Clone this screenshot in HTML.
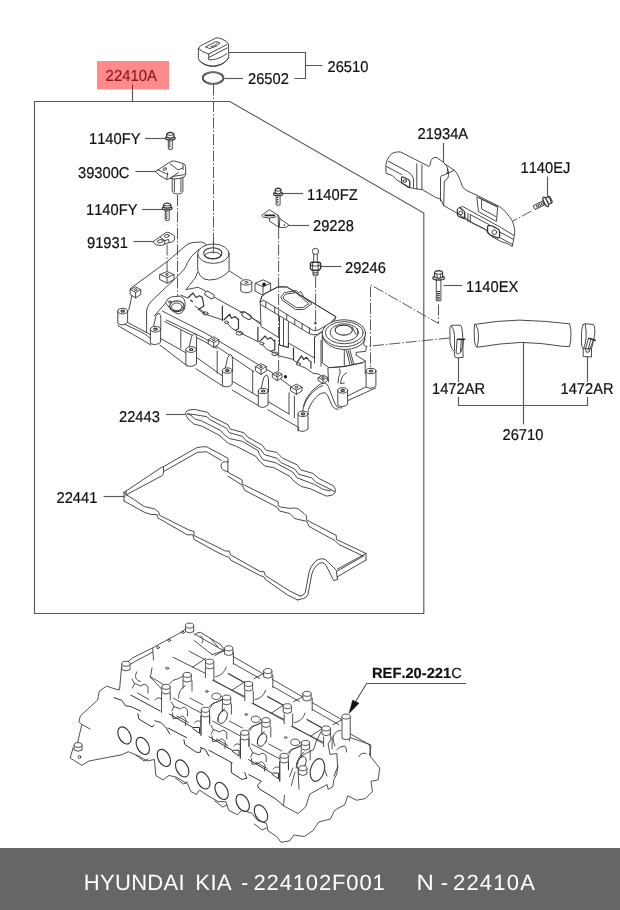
<!DOCTYPE html>
<html><head><meta charset="utf-8">
<style>
html,body{margin:0;padding:0;background:#fff;}
body{width:620px;height:910px;position:relative;overflow:hidden;font-family:"Liberation Sans",sans-serif;}
svg{position:absolute;left:0;top:0;will-change:transform;}
.l{font-family:"Liberation Sans",sans-serif;font-size:14.7px;fill:#111;stroke:#111;stroke-width:.2px;font-kerning:none;text-rendering:geometricPrecision;}
.ln{stroke:#585858;stroke-width:1.15;fill:none;}
.p{stroke:#363636;stroke-width:.9;fill:none;stroke-linejoin:round;stroke-linecap:round;}
.pf{stroke:#363636;stroke-width:.9;fill:#fff;stroke-linejoin:round;stroke-linecap:round;}
.d{stroke:#444;stroke-width:.9;fill:none;stroke-dasharray:11 2 1.5 2;}
#foot{will-change:transform;position:absolute;left:0;top:848px;width:620px;height:62px;background:#666;color:#fff;font-size:22px;line-height:62px;white-space:pre;font-kerning:none;text-rendering:geometricPrecision;}
#foot span{position:absolute;top:3.5px;}
</style></head><body>
<svg width="620" height="910" viewBox="0 0 620 910">
<!-- FRAME -->
<g id="frame">
<rect x="97" y="61" width="72" height="28.4" fill="#ff8a8a"/>
<text transform="translate(105.6 80.8) scale(1 1.07)" font-size="14.9" fill="#8b1a1a" stroke="#8b1a1a" stroke-width="0.2" style="font-kerning:none;text-rendering:geometricPrecision" font-family="Liberation Sans, sans-serif">22410A</text>
<path d="M132.5 84.5V89.4" stroke="#8b2525" stroke-width="1" fill="none"/>
<path class="ln" d="M132.5 89.4V101"/>
<path class="ln" d="M34.5 613.5V101.5H229.8L423.8 213V613.5Z"/>
</g>
<!-- LABELS -->
<g id="labels">
<text class="l" transform="translate(327.5 72) scale(1 1.07)">26510</text>
<text class="l" transform="translate(248 84) scale(1 1.07)">26502</text>
<text class="l" transform="translate(89 144) scale(1 1.07)">1140FY</text>
<text class="l" transform="translate(78 177.5) scale(1 1.07)">39300C</text>
<text class="l" transform="translate(86 215) scale(1 1.07)">1140FY</text>
<text class="l" transform="translate(87 248) scale(1 1.07)">91931</text>
<text class="l" transform="translate(307 200) scale(1 1.07)">1140FZ</text>
<text class="l" transform="translate(313 231) scale(1 1.07)">29228</text>
<text class="l" transform="translate(345 272.5) scale(1 1.07)">29246</text>
<text class="l" transform="translate(417.5 138.5) scale(1 1.07)">21934A</text>
<text class="l" transform="translate(520.5 172.5) scale(1 1.07)">1140EJ</text>
<text class="l" transform="translate(466 291.5) scale(1 1.07)">1140EX</text>
<text class="l" transform="translate(432 394) scale(1 1.07)">1472AR</text>
<text class="l" transform="translate(560.5 394) scale(1 1.07)">1472AR</text>
<text class="l" transform="translate(502.5 440) scale(1 1.07)">26710</text>
<text class="l" transform="translate(119 421.5) scale(1 1.07)">22443</text>
<text class="l" transform="translate(56.5 502.5) scale(1 1.07)">22441</text>
<text class="l" transform="translate(372 678)" font-weight="bold" style="font-size:14.7px">REF.20-221<tspan font-weight="normal">C</tspan></text>
</g>
<!-- LEADERS -->
<g id="leaders">
<path class="ln" d="M229 52.5H305.5V78.5H294.5M305.5 65.5H322.5"/>
<path class="ln" d="M224.5 78.5H243"/>
<path class="ln" d="M145 138.5H166"/>
<path class="ln" d="M135.5 171.5H156"/>
<path class="ln" d="M142 209.5H163"/>
<path class="ln" d="M133.5 241.5H153.5"/>
<path class="ln" d="M281.5 193.5H303"/>
<path class="ln" d="M289 225.5H309"/>
<path class="ln" d="M320.5 266.5H341"/>
<path class="ln" d="M443.5 143V162.5"/>
<path class="ln" d="M547.5 176.5V196"/>
<path class="ln" d="M443.5 285.5H462"/>
<path class="ln" d="M458.5 357V382M458.5 397V405.5H587.5V397M587.5 382V355.5"/>
<path class="ln" d="M523.5 343V424.5"/>
<path class="ln" d="M166 414.5H185"/>
<path class="ln" d="M103.5 496.5H124.5"/>
<path class="ln" d="M466 683.5H366.5L353 706"/>
<path d="M349.2 713.2L352.6 700.2L359 703.2Z" fill="#111" stroke="#111" stroke-width="0.6"/>
</g>
<!-- PARTS -->
<g id="parts">
<!-- oil cap 26510 -->
<g id="cap">
<path class="pf" d="M198.4 48.5V58.5Q199 62 206 65Q213 67.6 220.5 64.5Q228.5 61 228.8 56L228.4 44Q227 41 222 39Q218 37.4 216 38L201 45.5Q198.5 47 198.4 48.5Z"/>
<path class="p" d="M198.4 48.5Q203 52.5 208.7 54L226.8 44.6M208.7 54V59.8Q218 60.5 227 53.5M209.3 57.3L227 48"/>
<path class="p" d="M205.8 46.8L216 41.5L219.8 42.9L217 45.8L210.2 48.4Z"/>
<path class="p" d="M211 46.5L214.5 46L217 43.2"/>
<path class="p" d="M199.5 60.5Q205 66.5 213.5 66.6Q223 66 228.6 58"/>
</g>
<ellipse cx="213.1" cy="78" rx="10.3" ry="5.9" fill="none" stroke="#333" stroke-width="1.9"/>
<ellipse cx="213.1" cy="78" rx="10.3" ry="5.9" fill="none" stroke="#bbb" stroke-width="0.5"/>
<path class="d" d="M213.5 84.5V245"/>
<!-- bolts left -->
<g><path class="pf" d="M168.3 139.2V149.0Q170.3 150.4 172.3 149.0V139.2Z"/><path d="M169.70000000000002 141.2V148.3" stroke="#222" stroke-width="1.6" stroke-dasharray="1.2 1" fill="none"/><ellipse class="pf" cx="170.3" cy="138.2" rx="4.9" ry="1.8" style="stroke-width:1.3"/><path class="pf" d="M166.70000000000002 137.39999999999998V134.4Q166.70000000000002 132.8 170.3 132.4Q173.9 132.8 173.9 134.4V137.39999999999998Q170.3 139.0 166.70000000000002 137.39999999999998Z" style="stroke-width:1.2"/><path class="p" d="M166.70000000000002 134.70000000000002Q170.3 136.4 173.9 134.70000000000002"/></g>
<g><path class="pf" d="M165.2 209.2V220.0Q167.2 221.4 169.2 220.0V209.2Z"/><path d="M166.6 211.2V219.3" stroke="#222" stroke-width="1.6" stroke-dasharray="1.2 1" fill="none"/><ellipse class="pf" cx="167.2" cy="208.2" rx="4.9" ry="1.8" style="stroke-width:1.3"/><path class="pf" d="M163.6 207.39999999999998V205.0Q163.6 203.4 167.2 203.0Q170.79999999999998 203.4 170.79999999999998 205.0V207.39999999999998Q167.2 209.0 163.6 207.39999999999998Z" style="stroke-width:1.2"/><path class="p" d="M163.6 205.3Q167.2 207.0 170.79999999999998 205.3"/></g>
<g><path class="pf" d="M276.1 194.9V204.79999999999998Q278.1 206.2 280.1 204.79999999999998V194.9Z"/><path d="M277.5 196.9V204.1" stroke="#222" stroke-width="1.6" stroke-dasharray="1.2 1" fill="none"/><ellipse class="pf" cx="278.1" cy="193.9" rx="4.6" ry="1.8" style="stroke-width:1.3"/><path class="pf" d="M275.20000000000005 193.1V190.2Q275.20000000000005 188.6 278.1 188.2Q281.0 188.6 281.0 190.2V193.1Q278.1 194.70000000000002 275.20000000000005 193.1Z" style="stroke-width:1.2"/><path class="p" d="M275.20000000000005 190.5Q278.1 192.2 281.0 190.5"/></g>
<!-- sensor 39300C -->
<g id="sensor">
<path class="pf" d="M172.2 177.5V191Q172.6 193.9 177.6 193.9Q182.6 193.9 182.9 191V176.5Z"/>
<path class="p" d="M174.4 179V191.8M180.9 178.5V191.8"/>
<path class="pf" d="M156.1 171.2L169.7 162.1Q172 160.8 174.5 161L183.7 163.7Q185.4 164.5 185.5 166.5L185.8 174.5Q185.5 177.3 180 178.4Q175 179.3 170.5 178.4L166.6 179.6L159.4 175.3Z"/>
<path class="p" d="M157.6 169.6L167.7 174.5L166.5 179.4M167.7 174.5L167.6 172.8"/>
<path class="p" d="M169.9 163.6L178 170L183 167.8M183 164.2V169.6"/>
<path class="p" d="M178.5 172.6L170.6 177.9M170.6 177.9Q172 176 178 175.6Q184 175.4 185.7 173.4"/>
<ellipse class="p" cx="164.8" cy="169.1" rx="1.7" ry="1.2" transform="rotate(-35 164.8 169.1)"/>
</g>
<path class="d" d="M177.5 195V299"/>
<!-- bracket 91931 -->
<g id="b91931">
<path class="pf" d="M153.2 241.6L165.5 232.8Q167.3 231.8 169 232.6L173.6 235Q175 236.6 174.6 239Q173.8 241.6 171.6 242.2L168.1 242.8L161.5 245.5L156.5 244.9Z"/>
<ellipse class="p" cx="160.3" cy="241.2" rx="3.1" ry="1.5" transform="rotate(-12 160.3 241.2)"/>
<ellipse class="p" cx="166.9" cy="235.9" rx="2.6" ry="1.4" transform="rotate(-12 166.9 235.9)"/>
<path class="p" d="M160.5 237.6L165 240.6L164.4 243.8M165 240.6L168.5 239.4L169.2 242.4"/>
</g>
<path class="d" d="M167.1 244.5V271"/>
<!-- heat shield 21934A -->
<g id="shield">
<path class="pf" d="M385.8 165.2Q386.5 159.5 389 156.8Q391.5 153 394.2 152.5Q398 151.5 400.6 152L429 166.5Q430 166 430.5 163Q430.6 160 432.9 158.1Q435 157 437 157.6L443.7 162.6Q447 165 447.5 168.5Q448 172 446.5 174L454.2 170.2Q458 173 462.3 186.3Q464 189.5 467.9 191.1L478.4 196L499.4 206.5Q503 209 505.8 212.1Q510 217 512.3 221Q514.5 226 514.7 230.6Q514.8 235 513.9 237.9L512.3 246.5L507.4 243.5L501.8 241.9L491.3 236.3L484.8 229L473.5 223.4L456.6 212.9L443.7 205.6L440.6 199L435.5 197.4L422.6 189.7L413.5 188.4L409.7 187.7L401.3 182.6L396.8 180L392.3 175.5L386.5 173.5Z"/>
<path class="p" d="M388.4 161.3L407.7 171.6Q412.5 174.5 413.5 178.7V187.7M386.5 166.5L401.5 174.5"/>
<path class="p" d="M416.8 163.9V189M421.9 164.9V189.6"/>
<path class="p" d="M401.5 178.2Q401.6 176.4 403.4 177L408.6 179.8Q409.8 180.6 409.8 182.2V186.6Q409.6 188 408.4 187.2L401.8 183Z" style="stroke-width:1.3"/>
<circle class="p" cx="404.9" cy="181" r="1.5"/>
<path class="p" d="M447.1 172.9Q445.5 175.5 441.9 175.5Q440.5 176 440.5 178V201M443.7 205.6L444.3 182Q444.5 180.5 446 179.8Q448.5 178.5 448.5 175.5Q449 172 447.6 168.5"/>
<path class="p" d="M444.5 163.9Q452 168.5 454.2 170.2"/>
<path class="p" d="M478.4 211.3L476.8 196.8L497.7 206.8L496.5 221Z"/>
<path class="p" d="M479.2 197.9L481.6 199.2V208.9L495.8 216.5M481.6 199.2L497.4 207"/>
<path class="p" d="M457.4 209.6Q457.6 207.6 459.6 207.6L462.6 206.5L499.4 226.6L513.9 235.5"/>
<path class="p" d="M457.4 209.6V214.5Q457.6 216 459 216.6L463.5 218.4Q464.7 218.6 464.7 217V212.5Q464.5 211 463 210.2L459.6 207.6" style="stroke-width:1.3"/>
<circle class="p" cx="460.8" cy="213" r="1.9"/>
<path class="p" d="M464.7 213.5V219M467.9 213.4V221.4M470.3 214.6V222.2M464.7 218.6L470.3 222L487.3 230.5M470.3 214.6L489 224.6"/>
<path class="p" d="M487.5 228Q487.2 225.6 489.6 225.4Q491.5 225.6 493 226.4L498 229Q499.6 230 499.6 232V236.4Q499.4 238.4 497.5 237.8L490.5 235Q488 234 487.6 232Z" style="stroke-width:1.3"/>
<circle class="p" cx="494.4" cy="232.2" r="2.3"/>
<path class="p" d="M499.6 237.5L512.6 244.5M499.6 232L513.6 239.4"/>
</g>
<path class="d" d="M531.5 211L513 221"/>
<!-- bolt 1140EJ -->
<g transform="translate(545.7 201.9) rotate(-26.6)">
<path class="pf" d="M0 -2.1H-12.4Q-14 0 -12.4 2.1H0Z"/>
<path d="M-10.5 0.2H-0.5" stroke="#222" stroke-width="2.6" stroke-dasharray="1 0.8" fill="none"/>
<path class="pf" d="M0.8 -3.6H4.6Q6 -3.6 6 -2V2Q6 3.6 4.6 3.6H0.8Z" style="stroke-width:1.2"/>
<path class="p" d="M4.4 -3.6Q5.6 0 4.4 3.6"/>
<ellipse class="pf" cx="0" cy="0" rx="1.7" ry="5.2" style="stroke-width:1.3"/>
</g>
<!-- bolt 1140EX -->
<g id="boltEX">
<path class="pf" d="M436.3 279.5V300.8H440.9V279.5Z"/>
<path d="M438.4 291V300.4" stroke="#222" stroke-width="3" stroke-dasharray="1 0.9" fill="none"/>
<ellipse class="pf" cx="438.6" cy="277.9" rx="5.8" ry="2.1" style="stroke-width:1.3"/>
<path class="pf" d="M434.6 277.2V273Q434.8 270.8 438.6 270.7Q442.4 270.8 442.6 273V277.2Q438.6 279 434.6 277.2Z" style="stroke-width:1.2"/>
<path class="p" d="M434.7 273.4Q438.6 275.4 442.5 273.4M437 274.4V278M440.4 274.4V278"/>
</g>
<path class="d" d="M438.5 304.5V323.5L370.5 284.7V371M449.5 338L366 346.5"/>
<!-- clamp left -->
<g id="clampL">
<path class="pf" d="M450 326.8Q450.3 325.4 452.9 325.2H460.6Q462 327.6 462.3 331.1L462.9 338.9L462.9 351.8L463.2 357.3L457.1 357.9L454.8 356.9L454.2 351.1Q452 349 451.9 348.5Q450.2 345 450 342.1Z"/>
<path class="p" d="M451.6 326Q454.3 329.5 454.5 335.6V350.4"/>
<path class="p" d="M457.1 339.3L456.1 353.1Q458.6 355.4 461.3 351.3M461.3 339.6L460.6 350.5M463.5 339.8L462.6 347.3L460.4 351.6"/>
<path d="M457.1 339.3H465.2" stroke="#222" stroke-width="1.5"/>
</g>
<!-- hose -->
<g id="hose">
<path class="pf" d="M474.7 324.4Q497 320.6 519.2 320.1Q545 320.8 569.5 323.8Q571 328 571 334Q571 341 569.5 346.6L561.8 346.2Q541 342.8 521.1 342.4Q499 343.4 477.6 347.2Q474.4 347.6 474.3 336Q474 326 474.7 324.4Z"/>
<path class="p" d="M476.2 325.2Q478.5 328.6 478.5 336Q478.5 343.4 477 347"/>
</g>
<!-- clamp right -->
<g id="clampR">
<path class="pf" d="M583.2 324.5Q584.4 323.7 586.1 323.8L593.4 324.5Q594.8 326.5 594.8 329.4Q595 333 594.4 336.1L592.9 342.9L591.5 348.7V357L583.2 356.5V348.7Q581.6 346.5 581.5 343.9V332.3Q581.8 328 583.2 324.5Z"/>
<path class="p" d="M585.2 324.3Q586.6 331 586.1 338.1Q585.4 344 583.7 348.7"/>
<path class="p" d="M588.6 338.1L585.7 348.2L586.1 352.1H589L590 348.7L593.4 340M591 339L588.1 349.7M583.4 348.7H591.4"/>
<path d="M588.6 338.1L595.8 340.5" stroke="#222" stroke-width="1.4"/>
</g>
<!-- valve cover -->
<g id="cover">
<path class="p" d="M130 288.8L167.5 261.3L185 246.3Q188.5 243 193 242.5L201.3 242Q205 243 207.3 245.3"/>
<path class="p" d="M206.1 245.7Q200.5 248 197.7 250.5Q190.5 256 187.5 262.5Q186.5 266.5 183.5 270L175 278.8L153.8 298.8Q147 305 146.6 311V332.5"/>
<path class="p" d="M132 295L128.8 310"/>
<path class="p" d="M117.9 325.6L151 345M127.6 322.4L150.2 334.5M118.7 323.4L126 324.8L144.5 333.7L150.4 338.5"/>
<path class="p" d="M162.3 311.1L205 332.9L273 373.2L290.8 386.5"/>
<path class="p" d="M166.3 320L205 338.5L253.6 371.5M164.7 321.6L205 341.8L217 348.5"/>
<path class="p" d="M160.6 338.5L186.5 353.1M196.6 357.5L222.5 375.9M232.3 381.2L258 396.3M268.1 401.6L289 414"/>
<path class="p" d="M159.8 345L187.3 366M196 368.8L223.4 386.5M232.3 390.1L258.9 406M267.7 409.6L290 422.5L298.8 427.5"/>
<path class="p" d="M180.8 330.5V348.2M217.2 351V373.2M252.7 371.5V392.7"/>
<path class="p" d="M154.2 316L166.3 302.3"/>
<path class="pf" d="M130.4 289.6L135.6 286.8L140.79999999999998 289.6V294.6L135.6 297.90000000000003L130.4 294.6Z"/><path class="p" d="M130.4 289.6L135.6 292.40000000000003L140.79999999999998 289.6M135.6 292.40000000000003V297.90000000000003"/><ellipse cx="135.6" cy="289.6" rx="1.3" ry="0.9" fill="none" stroke="#222" stroke-width="0.9"/>
<path class="pf" d="M160 274.5L167 271.5L174 274.5V279.6L167 283.1L160 279.6Z"/><path class="p" d="M160 274.5L167 277.5L174 274.5M167 277.5V283.1"/><ellipse cx="167" cy="274.5" rx="1.3" ry="0.9" fill="none" stroke="#222" stroke-width="0.9"/>
<path class="pf" d="M117.8 311.1V323.5Q122.7 326.7 127.60000000000001 322.5V311.1Z"/><ellipse class="pf" cx="122.7" cy="311.1" rx="4.9" ry="2.7"/><ellipse class="p" cx="122.7" cy="311.1" rx="1.7" ry="1" style="stroke-width:1.2"/>
<path class="pf" d="M153.5 326.7L155.9 316.2Q157.5 313.2 159.1 313.2Q160.9 315.2 160.8 318.2V329.2Z"/><path class="pf" d="M150.4 329.2V343.2Q155.5 346.4 160.6 342.2V329.2Z"/><ellipse class="pf" cx="155.5" cy="329.2" rx="5.1" ry="2.9"/><ellipse class="p" cx="155.5" cy="329.2" rx="1.7" ry="1" style="stroke-width:1.2"/>
<path class="pf" d="M189.2 347.0L191.6 336.5Q193.2 333.5 194.79999999999998 333.5Q196.6 335.5 196.5 338.5V349.5Z"/><path class="pf" d="M185.89999999999998 349.5V365Q191.2 368.2 196.5 364V349.5Z"/><ellipse class="pf" cx="191.2" cy="349.5" rx="5.3" ry="2.9"/><ellipse class="p" cx="191.2" cy="349.5" rx="1.7" ry="1" style="stroke-width:1.2"/>
<path class="pf" d="M225.3 368.1L227.70000000000002 357.6Q229.3 354.6 230.9 354.6Q232.70000000000002 356.6 232.60000000000002 359.6V370.6Z"/><path class="pf" d="M222.4 370.6V385.5Q227.3 388.7 232.20000000000002 384.5V370.6Z"/><ellipse class="pf" cx="227.3" cy="370.6" rx="4.9" ry="2.7"/><ellipse class="p" cx="227.3" cy="370.6" rx="1.7" ry="1" style="stroke-width:1.2"/>
<path class="pf" d="M261.2 388.5L263.59999999999997 378Q265.2 375 266.8 375Q268.59999999999997 377 268.5 380V391Z"/><path class="pf" d="M258.3 391V406Q263.2 409.2 268.09999999999997 405V391Z"/><ellipse class="pf" cx="263.2" cy="391" rx="4.9" ry="2.7"/><ellipse class="p" cx="263.2" cy="391" rx="1.7" ry="1" style="stroke-width:1.2"/>
<path class="pf" d="M165.6 302.6Q167 298 171.3 296.9L180.2 296.1Q184.6 298 185 301.8Q185.6 306.5 184.2 309.8Q182 313.6 178.5 313.9Q175 313.4 172.1 310.6Z"/>
<ellipse class="p" cx="176.9" cy="306.2" rx="7.2" ry="5.4" style="stroke-width:1.2"/><ellipse class="p" cx="176.9" cy="306.8" rx="5.3" ry="3.8"/><ellipse class="p" cx="169.7" cy="301.8" rx="1.4" ry="1"/>

<path class="p" d="M197.4 272.5Q196 278 193 280.8Q189 286 185.8 289.7L197.9 287.3L203 289.6L216 298.2L261.1 323.1"/>
<path class="p" d="M181 295.3L188 298M195 306.1L204.7 312.6"/>
<rect class="pf" x="204.5" y="292.5" width="10" height="4.8" rx="2.4" transform="rotate(30 209.5 294.9)"/>
<rect class="pf" x="241.6" y="313.4" width="10" height="4.8" rx="2.4" transform="rotate(30 246.6 315.8)"/>
<path class="p" style="stroke-width:1.2" d="M188.2 297.7L193 293L196 297.5L199.5 295.8L202.3 297.3L203.9 306.1L198.2 309.4M190.5 300.2L192.5 301.5"/>
<path class="p" d="M199 310Q203 313.5 206.8 314.7L221.3 319.5"/>
<path class="p" style="stroke-width:1.2" d="M222.4 306.1V320.6M224 319.8L229.7 314.2L231.3 318.2L235.3 316.6L237.7 319M238.5 319V328.7L235.3 330.3"/>
<path class="p" d="M227.3 323.1Q231 329 235.3 330.3L245 335.2L257.9 341.6"/>
<path class="p" style="stroke-width:1.2" d="M257.9 327.1V341.6M259.5 341.6L265.2 336L267.6 339.2L270.8 337.6L274 340.8M274.8 340V349.7L270.8 351.3"/>
<path class="p" d="M262.8 345Q266.5 350.5 270.8 351.3L278.9 355.3"/>
<path class="p" style="stroke-width:1.2" d="M293.5 347.9V359.5M297.1 362.4L301.5 355.9L303.6 359.5L306.5 357.3L309.4 361M310.9 361V368.2"/>
<path class="p" d="M279 355.9L291.3 358.8L297 362.5M299.5 365.5L305.8 368.2L313.1 373.3L318.9 374L323.2 378.4"/>
<ellipse class="p" cx="298.3" cy="364" rx="2" ry="1.2"/>
<ellipse class="p" cx="226.5" cy="322.3" rx="2" ry="1.2"/><ellipse class="p" cx="261.9" cy="343.6" rx="2" ry="1.2"/><ellipse class="p" cx="205.5" cy="313.4" rx="2.6" ry="1.5"/><ellipse class="p" cx="239.4" cy="333.2" rx="3.4" ry="1.9"/><ellipse class="p" cx="275" cy="353.8" rx="3.2" ry="1.8"/>
<path class="p" d="M229.5 271L242.3 279.2"/>
<path class="pf" d="M197.7 253.7V270.3Q199 276 204 279Q208.5 281 216.6 279.1Q225 276 229.1 270.7V253.7Z"/>
<ellipse class="pf" cx="213.4" cy="253.7" rx="15.7" ry="9.7"/><ellipse class="p" cx="212.8" cy="253.3" rx="9.1" ry="5.6" style="stroke-width:1.1"/><ellipse class="p" cx="213" cy="255.4" rx="8" ry="3.2"/>
<path class="d" d="M213.4 242V253.5" style="stroke-dasharray:none"/>
<path class="pf" d="M240.8 282.6V291Q246.3 294.6 251.8 291V282.6Z"/><ellipse class="pf" cx="246.3" cy="282.4" rx="5.5" ry="2.7"/><ellipse class="p" cx="246.3" cy="282.4" rx="1.6" ry="0.9"/>
<path class="pf" d="M255.4 283.3L263 279.8L270.6 283.3V291.3L263 295.3L255.4 291.3Z"/><path class="p" d="M255.4 283.3L263 286.8L270.6 283.3M263 286.8V295.3"/>
<circle cx="264" cy="284.3" r="1.9" fill="#222"/>
<path class="p" d="M240 312.7Q242 310.6 244.8 311.9L261 324.8"/>
<path class="pf" d="M260.2 301.5L261 326.5L279.5 338V345L288.4 347.4V343L314.5 358V337.1L323.9 330.5L336 316.8L286.8 286.9L277.9 286.9L266 293Q262.6 294.8 261.8 296.6Z"/>
<path class="p" d="M260.2 301.5L261.8 296.6Q263 294.5 266 293L277.9 286.9L286.8 286.9L336 316.8L334.4 320.8L319 329.7Q316 331.2 313.4 330.5L309.4 328.1L264.2 300.6Z"/>
<path class="p" d="M261 304.7L309.4 333.7Q313.5 335.6 317.4 334.5L323.9 330.5"/>
<path class="p" d="M265.8 302V307.5M274.7 307V312.7M286.8 314.4V319.8M294.8 319.2V324.6M302.1 323.4V329M309.4 328.1V333.4"/>
<path class="p" d="M281.1 296.6L284.4 292.6L296.5 290.6L298.5 292.5L301 291.6L302.6 294.6L303.7 297.4L311.8 303.9L303.7 309.5L295.6 309.5L282.7 300.6Z"/>
<path class="p" d="M283.3 296.8L285.6 294.2L296 292.6L301.6 297.6L308.6 303.8L303 307.6L296.4 307.6L284.4 299.6Z"/>
<path class="p" d="M279.5 316.8V345L288.4 347.4V322M283.5 319V345.5"/>
<path class="p" d="M314.5 337.1V362.9M321 340.3V366.1"/>
<circle class="p" cx="315.3" cy="322.9" r="0.9"/>
<path class="pf" d="M322.3 333.9V362.9L329 367.7L344.3 366.5L362.9 362.6L365.2 360.9L356.1 355.2V352.4L365.7 351.3L366.3 346.8L363.5 344.5L365.3 333.9Z"/>
<ellipse class="pf" cx="343.9" cy="333.3" rx="21.6" ry="13.5"/>
<path class="p" d="M322.4 337Q326 348 344 349.7Q361 349 365.3 339.5"/>
<ellipse class="p" cx="344.3" cy="332.7" rx="19" ry="11.1"/><ellipse class="p" cx="344.3" cy="332.5" rx="14.2" ry="8.7"/><ellipse class="p" cx="343.7" cy="330.1" rx="8.7" ry="5" style="stroke-width:1.1"/>
<path class="p" d="M352.4 327.2L356.3 335.1M357.2 328.5L358.1 333.8"/>
<path class="p" d="M344.3 350.2V366.5M346.5 350.7L349.9 364.3M349.9 350.2L353.9 364.3M348.2 350.7L352.2 364.3"/>
<path class="p" d="M329 367.7L344.3 366.5L362.9 362.6M365.2 360.9V373.9"/>
<path class="p" d="M327.9 368.2L328.5 381.8M339.2 368.8Q341.5 371 338.6 377.3L338.1 382.9M346.5 372.7Q343 375 342 377.3L340.3 383.5L344.3 383"/>
<path class="p" d="M375.8 387.9L348.4 400.3M366.6 386.6L348.4 395.6"/>
<path class="pf" d="M366.1 371V386.9Q371 390.09999999999997 375.9 385.9V371Z"/><ellipse class="pf" cx="371" cy="371" rx="4.9" ry="2.7"/><ellipse class="p" cx="371" cy="371" rx="1.7" ry="1" style="stroke-width:1.2"/>
<path class="p" d="M302.7 411.5Q303.2 406 304.5 402.6Q306.5 397.5 309.8 393.7Q313 389.5 316.9 386.6Q320 383.8 323.1 383.1Q325.5 382.8 326.7 384Q328.4 386 329.4 389.3L333.8 400.8Q335.2 405 337.3 407Q339 408.2 341.8 407.9"/>
<path class="p" d="M307.7 413.2Q308.2 409.5 309.8 406.1Q312 401.5 315.2 398.1Q317.8 395.2 320.5 393.7Q323 392.6 324.9 392.8Q326.6 393.5 327.6 395.5L332 405.2Q333.4 407.8 335.6 408.8L338.2 409.3"/>
<path class="p" d="M303.8 406.5Q305.5 400.5 309 396.4Q312.2 392.2 316 389.3Q319.5 386.4 322.6 385.7"/>
<path class="pf" d="M337.8 390.4V405.3Q342.7 408.5 347.59999999999997 404.3V390.4Z"/><ellipse class="pf" cx="342.7" cy="390.4" rx="4.9" ry="2.7"/><ellipse class="p" cx="342.7" cy="390.4" rx="1.7" ry="1" style="stroke-width:1.2"/>

<path class="p" d="M289 392.7V414M294.4 396.3V417.6"/>
<path class="pf" d="M208.6 339.7L213.7 336.8L218.79999999999998 339.7V344.0L213.7 347.4L208.6 344.0Z"/><path class="p" d="M208.6 339.7L213.7 342.59999999999997L218.79999999999998 339.7M213.7 342.59999999999997V347.4"/><ellipse cx="213.7" cy="339.7" rx="1.3" ry="0.9" fill="none" stroke="#222" stroke-width="0.9"/>
<path class="pf" d="M255.7 366.6L261 363.6L266.3 366.6V370.90000000000003L261 374.40000000000003L255.7 370.90000000000003Z"/><path class="p" d="M255.7 366.6L261 369.6L266.3 366.6M261 369.6V374.40000000000003"/><ellipse cx="261" cy="366.6" rx="1.3" ry="0.9" fill="none" stroke="#222" stroke-width="0.9"/>
<path class="pf" d="M272.6 374.2L277.3 371.5L282.0 374.2V377.5L277.3 380.7L272.6 377.5Z"/><path class="p" d="M272.6 374.2L277.3 376.9L282.0 374.2M277.3 376.9V380.7"/><ellipse cx="277.3" cy="374.2" rx="1.3" ry="0.9" fill="none" stroke="#222" stroke-width="0.9"/>
<circle cx="285.5" cy="376.8" r="1.7" fill="#222"/>
<path class="pf" d="M290.79999999999995 387.2L296.4 384.2L302.0 387.2V390.9L296.4 394.4L290.79999999999995 390.9Z"/><path class="p" d="M290.79999999999995 387.2L296.4 390.2L302.0 387.2M296.4 390.2V394.4"/><ellipse cx="296.4" cy="387.2" rx="1.3" ry="0.9" fill="none" stroke="#222" stroke-width="0.9"/>
<path class="pf" d="M318.4 377.5L323 374.9L327.6 377.5V380.6L323 383.70000000000005L318.4 380.6Z"/><path class="p" d="M318.4 377.5L323 380.1L327.6 377.5M323 380.1V383.70000000000005"/><ellipse cx="323" cy="377.5" rx="1.3" ry="0.9" fill="none" stroke="#222" stroke-width="0.9"/>
<path class="pf" d="M298 413.8V430Q303 433.2 308 429V413.8Z"/><ellipse class="pf" cx="303" cy="413.8" rx="5" ry="2.7"/><ellipse class="p" cx="303" cy="413.8" rx="1.7" ry="1" style="stroke-width:1.2"/>
<path class="p" d="M298 431L298.8 427.5"/>
</g>
<!-- cylinder head -->
<g id="head">
<style>.h{stroke:#333;stroke-width:.85;fill:none;stroke-linejoin:round;stroke-linecap:round}.hf{stroke:#333;stroke-width:.85;fill:#fff;stroke-linejoin:round}</style>
<path class="h" d="M186.3 628L182 631.8L152.9 647.7L132.6 657.9L121.6 666.6L119.5 689.9L115.2 689L106.5 686.1L99.2 691.3L97.7 700L80.3 716L78.9 721.8L81.8 724.7L77.4 743.6"/>
<path class="h" d="M73.1 747.9L70.2 758.1L81.8 765.3L89 761L122.4 754.6L128.2 751.7L139.8 756.6L147.1 761L154.4 759.5L155.8 775.5L163.1 779.9L168.9 775.5L176.1 777L187.8 784.2L190.7 791.5L196.5 794.4L199.4 790L208.1 795.8L218.2 801.6L225.8 801.6L228.7 810.3L237.4 814.7L241.8 810.3L251.9 813.2L257.7 820.5L266.5 823.4L267.9 830.7L276.6 836.5L281 842.3L289.7 840.8L294 835L304.2 836.5L312.9 830.7L318.7 822L330.3 819L334.7 810.3L344.9 804.5L347.8 795.8L356.5 800.2L365.2 798.7L372.4 791.5L371 781.3L378.2 779.9L379.7 768.2L369.5 755.2L371 745L350.7 737.7"/>
<path class="h" d="M349.6 720V741M82 724.5L90 729"/>
<path class="h" d="M193.8 633.5L225.8 652.0"/>
<path class="h" d="M233.2 656.5L265.2 675.0"/>
<path class="h" d="M272.6 679.5L304.6 698.0"/>
<path class="h" d="M312.0 702.5L344.0 721.0"/>
<path class="h" d="M114 697.7L121.9 700.4L125.5 705.7L130.8 706.6L140.6 711M137.9 713.7L138.8 719L152.1 727L153.9 725.2M154.8 720.8L161 722.6L166.3 727.9L169.8 734.1M168 728L186.7 737.7M183.9 739.7L184.8 744.5L196.5 752.3L200.3 752.3L201.3 748.4M200.3 747.4L205.2 749.4L209 756.1M209 750.3L232.3 762.9M231.3 762.9L231.3 772.6L241.9 779.4L246.8 778.4L244.8 772.6M248.7 774.5L261.3 781.3L257.4 785.2L259.4 789L269 794.8L275.8 799L283.5 805.8" style="stroke-width:1"/>
<path class="h" style="stroke-width:1" d="M130.8 695.1L160.1 711"/>
<path class="h" style="stroke-width:1" d="M169.5 714.0L192.8 727.5L199.5 727.5L199.5 733.3L192.8 728.5"/>
<path class="h" d="M172.5 713.0L173.0 718.8L179.2 717.8Q183.0 713.7 186.0 719.8L185.4 725.6"/>
<path class="h" style="stroke-width:1" d="M209.0 736.8L232.3 750.3L239.0 750.3L239.0 756.1L232.3 751.3"/>
<path class="h" d="M212.0 735.8L212.5 741.6L218.7 740.6Q222.5 736.5 225.5 742.6L224.9 748.4"/>
<path class="h" style="stroke-width:1" d="M248.5 759.6L271.8 773.1L278.5 773.1L278.5 778.9L271.8 774.1"/>
<path class="h" d="M251.5 758.6L252.0 764.4L258.2 763.4Q262.0 759.3 265.0 765.4L264.4 771.2"/>
<ellipse class="h" cx="124.5" cy="735.4" rx="5.8" ry="9.2" transform="rotate(-28 124.5 735.4)" style="stroke-width:1.15"/>
<ellipse class="h" cx="142.8" cy="745.9" rx="5.8" ry="9.2" transform="rotate(-28 142.8 745.9)" style="stroke-width:1.15"/>
<ellipse class="h" cx="163.9" cy="757.9" rx="5.8" ry="9.2" transform="rotate(-28 163.9 757.9)" style="stroke-width:1.15"/>
<ellipse class="h" cx="182.2" cy="768.4" rx="5.8" ry="9.2" transform="rotate(-28 182.2 768.4)" style="stroke-width:1.15"/>
<ellipse class="h" cx="203.3" cy="780.4" rx="5.8" ry="9.2" transform="rotate(-28 203.3 780.4)" style="stroke-width:1.15"/>
<ellipse class="h" cx="221.6" cy="790.9" rx="5.8" ry="9.2" transform="rotate(-28 221.6 790.9)" style="stroke-width:1.15"/>
<ellipse class="h" cx="242.7" cy="802.9" rx="5.8" ry="9.2" transform="rotate(-28 242.7 802.9)" style="stroke-width:1.15"/>
<ellipse class="h" cx="261.0" cy="813.4" rx="5.8" ry="9.2" transform="rotate(-28 261.0 813.4)" style="stroke-width:1.15"/>
<path class="h" d="M136.0 755.0L144.0 761.0L148.0 759.0"/>
<path class="h" d="M175.4 778.0L183.4 784.0L187.4 782.0"/>
<path class="h" d="M214.8 801.0L222.8 807.0L226.8 805.0"/>
<path class="h" d="M254.2 824.0L262.2 830.0L266.2 828.0"/>
<path class="h" d="M173.1 657.3L205.0 673.2M189.0 651.0L205.5 660.0M213.9 680.3L244.0 697.2M173.1 698.1L201.5 713.2M190.0 698.0L203.0 705.0"/>
<path class="h" d="M205.4 668.0L205.4 677.7M213.9 668.0L213.9 680.0M161.5 693.0L161.5 712.3M170.3 693.0L170.3 700.0M192.0 681.0L192.0 691.0M183.0 681.0L183.0 688.0M201.0 716.0L201.0 735.0M209.6 716.0L209.6 724.0"/>
<path class="h" d="M169.5 683.9Q172.0 679.5 178.4 678.6Q182.0 676.5 183.5 676.0M210.3 707.8Q212.0 703.5 215.6 702.5Q220.0 700.8 223.0 699.5"/>
<path class="h" d="M224.4 650.4L214.7 655.7M192.5 667.2L205.8 658.4"/>
<path class="h" d="M185.5 685.6Q178.0 690.0 178.5 698.0M226.3 667.0Q224.0 675.0 215.6 676.8"/>
<ellipse class="h" cx="216.5" cy="696.3" rx="4.6" ry="3.2"/>
<ellipse class="h" cx="206.8" cy="691.5" rx="1.3" ry="0.9"/>
<ellipse class="h" cx="222.7" cy="717.0" rx="4.2" ry="6.8" transform="rotate(25 222.7 717.0)"/>
<path class="h" d="M233.4 652.0L233.4 664.4M233.4 663.5L260.0 678.6M228.1 673.2L244.0 682.1"/>
<path class="h" d="M132.0 679.0L134.5 683.5L132.5 688.0M134.5 683.5L141.0 686.0Q145.0 682.0 148.0 687.0L148.0 693.0M137.5 693.0L149.0 699.5M155.0 700.0Q158.0 696.0 161.5 699.0"/>
<path class="h" d="M212.5 680.3L244.4 696.2M228.4 674.0L244.9 683.0M253.3 703.3L283.4 720.2M212.5 721.1L240.9 736.2M229.4 721.0L242.4 728.0"/>
<path class="h" d="M244.8 691.0L244.8 700.7M253.3 691.0L253.3 703.0M200.9 716.0L200.9 735.3M209.7 716.0L209.7 723.0M231.4 704.0L231.4 714.0M222.4 704.0L222.4 711.0M240.4 739.0L240.4 758.0M249.0 739.0L249.0 747.0"/>
<path class="h" d="M208.9 706.9Q211.4 702.5 217.8 701.6Q221.4 699.5 222.9 699.0M249.7 730.8Q251.4 726.5 255.0 725.5Q259.4 723.8 262.4 722.5"/>
<path class="h" d="M263.8 673.4L254.1 678.7M231.9 690.2L245.2 681.4"/>
<path class="h" d="M224.9 708.6Q217.4 713.0 217.9 721.0M265.7 690.0Q263.4 698.0 255.0 699.8"/>
<ellipse class="h" cx="255.9" cy="719.3" rx="4.6" ry="3.2"/>
<ellipse class="h" cx="246.2" cy="714.5" rx="1.3" ry="0.9"/>
<ellipse class="h" cx="262.1" cy="740.0" rx="4.2" ry="6.8" transform="rotate(25 262.1 740.0)"/>
<path class="h" d="M272.8 675.0L272.8 687.4M272.8 686.5L299.4 701.6M267.5 696.2L283.4 705.1"/>
<path class="h" d="M171.4 702.0L173.9 706.5L171.9 711.0M173.9 706.5L180.4 709.0Q184.4 705.0 187.4 710.0L187.4 716.0M176.9 716.0L188.4 722.5M194.4 723.0Q197.4 719.0 200.9 722.0"/>
<path class="h" d="M251.9 703.3L283.8 719.2M267.8 697.0L284.3 706.0M292.7 726.3L322.8 743.2M251.9 744.1L280.3 759.2M268.8 744.0L281.8 751.0"/>
<path class="h" d="M284.2 714.0L284.2 723.7M292.7 714.0L292.7 726.0M240.3 739.0L240.3 758.3M249.1 739.0L249.1 746.0M270.8 727.0L270.8 737.0M261.8 727.0L261.8 734.0M279.8 762.0L279.8 781.0M288.4 762.0L288.4 770.0"/>
<path class="h" d="M248.3 729.9Q250.8 725.5 257.2 724.6Q260.8 722.5 262.3 722.0M289.1 753.8Q290.8 749.5 294.4 748.5Q298.8 746.8 301.8 745.5"/>
<path class="h" d="M303.2 696.4L293.5 701.7M271.3 713.2L284.6 704.4"/>
<path class="h" d="M264.3 731.6Q256.8 736.0 257.3 744.0M305.1 713.0Q302.8 721.0 294.4 722.8"/>
<ellipse class="h" cx="295.3" cy="742.3" rx="4.6" ry="3.2"/>
<ellipse class="h" cx="285.6" cy="737.5" rx="1.3" ry="0.9"/>
<ellipse class="h" cx="301.5" cy="763.0" rx="4.2" ry="6.8" transform="rotate(25 301.5 763.0)"/>
<path class="h" d="M312.2 698.0L312.2 710.4M312.2 709.5L338.8 724.6M306.9 719.2L322.8 728.1"/>
<path class="h" d="M210.8 725.0L213.3 729.5L211.3 734.0M213.3 729.5L219.8 732.0Q223.8 728.0 226.8 733.0L226.8 739.0M216.3 739.0L227.8 745.5M233.8 746.0Q236.8 742.0 240.3 745.0"/>
<path class="h" d="M291.3 726.3L323.2 742.2M307.2 720.0L323.7 729.0"/>
<path class="h" d="M323.6 737.0L323.6 746.7M332.1 737.0L332.1 749.0M279.7 762.0L279.7 781.3M288.5 762.0L288.5 769.0M310.2 750.0L310.2 760.0M301.2 750.0L301.2 757.0"/>
<path class="h" d="M287.7 752.9Q290.2 748.5 296.6 747.6Q300.2 745.5 301.7 745.0"/>
<path class="h" d="M342.6 719.4L332.9 724.7M310.7 736.2L324.0 727.4"/>
<path class="h" d="M250.2 748.0L252.7 752.5L250.7 757.0M252.7 752.5L259.2 755.0Q263.2 751.0 266.2 756.0L266.2 762.0M255.7 762.0L267.2 768.5M273.2 769.0Q276.2 765.0 279.7 768.0"/>
<path class="h" d="M131 664L135 661.5L152.7 652M152.7 648.4L153.5 660M152 668L150.5 676.8L166 686M150 676.8L161.5 689M136.5 672Q133 680 140.5 681.5"/>
<ellipse class="h" cx="158" cy="647.5" rx="1.5" ry="1"/>
<ellipse class="h" cx="169.2" cy="640.4" rx="1.5" ry="1"/>
<ellipse class="h" cx="182.8" cy="632.4" rx="1.5" ry="1"/>
<ellipse class="h" cx="167.2" cy="668.3" rx="1.5" ry="1"/>
<path class="h" d="M195.2 635.1Q196 632 200.6 632.4L221 644.8Q224.5 648 222.7 651L212.1 654.6M194 640.4L212.1 654.6M201 636Q204.5 640 202 643M210 638L218 647M223.6 651L226.5 650"/>
<path class="h" d="M321.3 731.3L316.4 741L313.5 749.7L301.9 755.5L297.1 762.3L296.1 768.1M295 772L291.3 785.5"/>
<path class="h" d="M330 729.4L331 739L328.1 743.9L330 754.5L336.8 753.5L337.7 768.1L336.8 773.9L333.9 779.7L332.9 786.5L328.1 789.4L327.1 784.5L309.7 794.2L305.8 806.8L298.1 813.5L283.5 805.8L284.5 795.2"/>
<ellipse class="h" cx="317.4" cy="770" rx="6.8" ry="11.6" transform="rotate(15 317.4 770)" style="stroke-width:1.05"/>
<path class="h" d="M350.9 734.2L369.7 744.8L370.6 755.5M359 756.5Q361 752 366 753.5M340.6 730.3Q334 731 333 738Q333.5 743 335 746M336.8 749.7Q340 746 344.5 746Q347 748 346.5 752M298 768L299 789.4M289.4 776.8L293 768M304 752Q298 756 297.5 764M325 770.5L327 776M338 766L334 776"/>
<path class="hf" d="M185.5 625.6V631.6Q189.6 634.1 193.7 631.6V625.6Z"/><ellipse class="hf" cx="189.6" cy="625.6" rx="4.1" ry="2.5"/>
<path class="hf" d="M224.6 648.3V654.3Q228.7 656.8 232.8 654.3V648.3Z"/><ellipse class="hf" cx="228.7" cy="648.3" rx="4.1" ry="2.5"/>
<path class="hf" d="M205.6 661.7V667.7Q209.7 670.2 213.8 667.7V661.7Z"/><ellipse class="hf" cx="209.7" cy="661.7" rx="4.1" ry="2.5"/>
<path class="hf" d="M121.8 663.7V669.7Q125.9 672.2 130.0 669.7V663.7Z"/><ellipse class="hf" cx="125.9" cy="663.7" rx="4.1" ry="2.5"/>
<path class="hf" d="M263.7 671.0V677.0Q267.8 679.5 271.9 677.0V671.0Z"/><ellipse class="hf" cx="267.8" cy="671.0" rx="4.1" ry="2.5"/>
<path class="hf" d="M183.1 674.9V680.9Q187.2 683.4 191.3 680.9V674.9Z"/><ellipse class="hf" cx="187.2" cy="674.9" rx="4.1" ry="2.5"/>
<path class="hf" d="M244.4 683.9V689.9Q248.5 692.4 252.6 689.9V683.9Z"/><ellipse class="hf" cx="248.5" cy="683.9" rx="4.1" ry="2.5"/>
<path class="hf" d="M161.9 686.8V692.8Q166.0 695.3 170.1 692.8V686.8Z"/><ellipse class="hf" cx="166.0" cy="686.8" rx="4.1" ry="2.5"/>
<path class="hf" d="M302.9 693.8V699.8Q307.0 702.3 311.1 699.8V693.8Z"/><ellipse class="hf" cx="307.0" cy="693.8" rx="4.1" ry="2.5"/>
<path class="hf" d="M222.5 697.6V703.6Q226.6 706.1 230.7 703.6V697.6Z"/><ellipse class="hf" cx="226.6" cy="697.6" rx="4.1" ry="2.5"/>
<path class="hf" d="M283.2 706.2V712.2Q287.3 714.7 291.4 712.2V706.2Z"/><ellipse class="hf" cx="287.3" cy="706.2" rx="4.1" ry="2.5"/>
<path class="hf" d="M201.3 709.8V715.8Q205.4 718.3 209.5 715.8V709.8Z"/><ellipse class="hf" cx="205.4" cy="709.8" rx="4.1" ry="2.5"/>
<path class="hf" d="M342.0 716.5V738.5Q346.1 741.0 350.2 738.5V716.5Z"/><ellipse class="hf" cx="346.1" cy="716.5" rx="4.1" ry="2.5"/>
<path class="hf" d="M261.9 720.2V726.2Q266.0 728.7 270.1 726.2V720.2Z"/><ellipse class="hf" cx="266.0" cy="720.2" rx="4.1" ry="2.5"/>
<path class="hf" d="M322.0 728.4V734.4Q326.1 736.9 330.2 734.4V728.4Z"/><ellipse class="hf" cx="326.1" cy="728.4" rx="4.1" ry="2.5"/>
<path class="hf" d="M240.7 732.8V738.8Q244.8 741.3 248.9 738.8V732.8Z"/><ellipse class="hf" cx="244.8" cy="732.8" rx="4.1" ry="2.5"/>
<path class="hf" d="M301.3 742.9V748.9Q305.4 751.4 309.5 748.9V742.9Z"/><ellipse class="hf" cx="305.4" cy="742.9" rx="4.1" ry="2.5"/>
<path class="hf" d="M280.1 755.8V761.8Q284.2 764.3 288.3 761.8V755.8Z"/><ellipse class="hf" cx="284.2" cy="755.8" rx="4.1" ry="2.5"/>
<path class="hf" d="M298.7 768.2V774.2Q302.8 776.7 306.9 774.2V768.2Z"/><ellipse class="hf" cx="302.8" cy="768.2" rx="4.1" ry="2.5"/>
<path class="hf" d="M74 745V750Q78 752.5 82 750V745Z"/><ellipse class="hf" cx="78" cy="745" rx="4" ry="2.5"/><ellipse class="h" cx="79.5" cy="757" rx="1.3" ry="1.6"/>
</g>
<!-- gasket 22443 -->
<g id="g22443">
<path class="pf" d="M185.8 412.3L188 410.2L194.5 409.4L207.6 412.3L210.5 416L227.9 424.7L230.1 429L243.9 432.7L247.5 437L262.3 445.2L265.9 450.2L276.8 452.4L282.6 458.2L297.1 464.8L300.7 469.8L313.1 473.5L318.9 478.5L333.4 485.8L335.6 489.4L334.8 493.1L331.9 495.2L327.6 496L326.1 496L310.2 488.7L301.4 486.5L294.2 481.4L289.8 476.4L273.9 467.7L265.2 466.2L259.4 461.1L256.2 456.6L236.6 446.4L228.6 443.5L223.5 439.2L219.9 435.6L201.8 426.1L193.8 424L188 418.9L185.8 414.5Z"/>
<path class="p" d="M187.3 413.8L193.8 414.5L206.9 416.7L209.8 419.6L226.4 428.3L229.4 432.7L242.4 436.3L246 440.6L260.8 449.5L264.4 454.6L276.8 458.2L281.1 462.6L294.9 469.1L298.5 474.2L311.6 477.8L316 482.2L330.5 489.4"/>
<path class="p" d="M330.5 490.9L323.2 489.4L314.5 484.4L310.2 482.9L297.1 477.8L292.7 472L275.3 462.6L263 459.7L259.4 454.6L258.4 450.8L242.4 441.4L229.4 438.5L224.3 434.8L220.6 430.5L201.8 421L194.5 418.9L190.9 415.2"/>
<path class="p" d="M330.5 489.4L334.5 491.5M190.9 415.2L187.3 413.8"/>
</g>
<!-- gasket 22441 -->
<g id="g22441">
<path class="p" d="M124 492.4L161.3 467.5L163.5 466.6L196.3 447.9Q201 446.4 206.5 446.8L208.7 447.9L227.9 458.1V472.3L242.1 480V483.9L244.7 485.2L278.2 501.9V505.8L280.8 507.1L289.8 508.4Q294 507.6 297.6 508.4L304 513.5L306.6 516.1V520L309.2 521.3L336.3 535.5V539.4L338.9 540.6L366 553.5V560"/>
<path class="p" d="M127.4 494.2L161.3 476.1Q163.8 475.5 163.5 471.6V467M163.5 471.6L197.4 452.4L206.5 451.7L221.1 460.3"/>
<path class="p" d="M227.9 462Q221 460.5 221 466Q221.5 471 227.9 471.6M227.9 476.1L242.1 485.2L244.7 490.3L276.9 507.1L279.5 511L289.8 513.5L295 518.7L306.6 521.3L309.2 526.5L335 540.6L338.9 544.5L363.4 556.1"/>
<path class="p" d="M124 492.4V501M124 492.4L127.4 495.3M126 491V496"/>
<path class="p" d="M127.4 495.3L144.4 506.6L154.5 508.9L159 512.3V515L189.5 530.3L194 531.5V535.5L215 545.8L225.3 551H229.2L230.5 554.8L260.2 571.6H264L265.3 575.5L289.8 591L300.2 596.1"/>
<path class="p" d="M124 501L144.4 512.3L151.1 514.5H156.8L157.9 517.9L187.3 534.8H192.9L194 539.4L215 551L225.3 556.1L229.2 557.4L230.5 560L260.2 575.5L264 576.8L265.3 579.4L287.3 594.8L297.6 600"/>
<path class="p" d="M336.3 570.3L328.5 562.6Q325.5 558.5 322 558.7Q317.5 559 315.6 561.3Q310.5 566 309.2 571.6L305.3 592.3Q303.5 596 300.2 596.1"/>
<path class="p" d="M337.6 579.4L333.7 580.6L326 565.2Q324 562.5 322.1 562.6Q319 563 316.9 565.2Q313 569 311.8 574.2L307.9 594.8Q306 598.5 302.7 598.7L297.6 600"/>
<path class="p" d="M366 553.5L337.6 569M366 560L337 577M363.4 556.1L336.3 571.6L337.6 579.4"/>
</g>
<!-- bracket 29228 -->
<g id="b29228">
<path class="pf" d="M262 215.3L269.3 209.7L278 215.1L279.8 218.7L288.9 225L285.8 227.4H279.2L269.5 221.1V218.1L264 217.3Z"/>
<path d="M265.3 215.4H274.4" stroke="#222" stroke-width="1.7" stroke-linecap="round"/>
<path class="p" d="M278 215.1L278.6 227.2M279.8 218.7L279.3 227.4M269.5 218.1L276 216.9"/>
<circle cx="284.4" cy="225" r="0.8" fill="#222"/>
</g>
<path class="d" d="M278.6 228V371"/>
<!-- plug 29246 -->
<g id="plug">
<path class="pf" d="M313 269.5V275Q315.5 277.5 318 275V269.5Z"/>
<path class="p" d="M313.2 272.3H317.8M313.4 274.2H317.6" />
<path class="pf" d="M313.7 254V262.5H317.3V254Z"/>
<circle class="pf" cx="315.5" cy="251.4" r="3.1"/>
<path class="pf" d="M310.4 263.2L312 262.2H319L320.6 263.2V268.6L319 270.2H312L310.4 268.6Z" style="stroke-width:1.4"/>
<path class="p" d="M310.2 265.3Q315.5 267.3 320.8 265.3M312.6 262.4V269.8M318.2 262.4V269.8"/>
</g>
<path class="d" d="M315.6 277V330"/>
</g>

</svg>
<div id="foot"><span style="left:83.8px;letter-spacing:0.3px">HYUNDAI</span><span style="left:195.3px;letter-spacing:0.5px">KIA</span><span style="left:241px">-</span><span style="left:253.5px;letter-spacing:0.85px">224102F001</span><span style="left:416.6px;top:4.5px;font-size:24px;transform:scaleY(.917);">N</span><span style="left:440.8px">-</span><span style="left:453px;letter-spacing:1.2px">22410A</span></div>
</body></html>
